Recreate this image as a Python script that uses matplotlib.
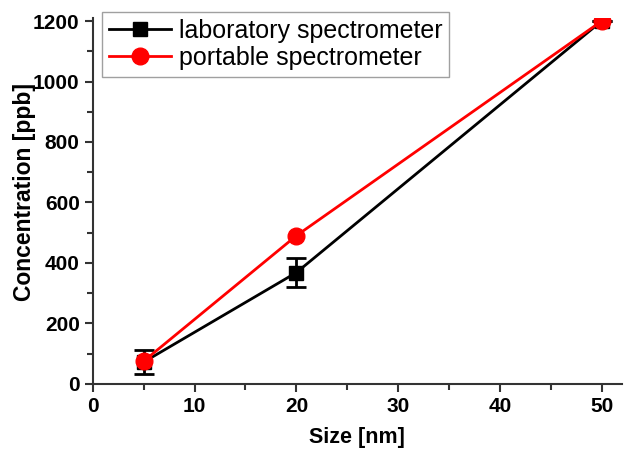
import matplotlib.pyplot as plt
from matplotlib.ticker import MultipleLocator

sizes = [5, 20, 50]
labConc = [72, 368, 1200]
labErr = [39, 48, 0]
portConc = [75, 490, 1200]

plt.rcParams['font.family'] = ['Liberation Sans', 'DejaVu Sans']

fig = plt.figure(figsize=(6.36, 4.51), dpi=100)
ax = fig.add_axes([0.146, 0.149, 0.832, 0.811])

# error bars for the lab series, then the two lines with markers
ax.errorbar(sizes, labConc, yerr=labErr, fmt='none', ecolor="black",
            elinewidth=2, capsize=7, capthick=2)
labLine, = ax.plot(sizes, labConc, color="black", marker='s', markersize=10,
                   linewidth=2, label="laboratory spectrometer")
portLine, = ax.plot(sizes, portConc, color="red", marker='o', markersize=12,
                    linewidth=2, label="portable spectrometer")

ax.set_xlim(0, 52)
ax.set_ylim(0, 1210)
ax.xaxis.set_major_locator(MultipleLocator(10))
ax.xaxis.set_minor_locator(MultipleLocator(5))
ax.yaxis.set_major_locator(MultipleLocator(200))
ax.yaxis.set_minor_locator(MultipleLocator(100))

for side in ["top", "right"]:
    ax.spines[side].set_visible(False)
for side in ["left", "bottom"]:
    ax.spines[side].set_linewidth(1.5)
    ax.spines[side].set_color("#333333")

ax.tick_params(which='major', direction='out', length=6, width=1.5, colors="#333333",
               labelsize=15, labelcolor="black")
ax.tick_params(which='minor', direction='out', length=4, width=1.5, colors="#333333")
for lbl in ax.get_xticklabels() + ax.get_yticklabels():
    lbl.set_fontweight('bold')

ax.set_xlabel("Size [nm]", fontsize=15.5, fontweight='bold', labelpad=8)
ax.set_ylabel("Concentration [ppb]", fontsize=16.5, fontweight='bold')
ax.yaxis.set_label_coords(-0.107, 0.525)

leg = ax.legend(handles=[labLine, portLine], loc="upper left",
                bbox_to_anchor=(0.017, 1.016), fontsize=18,
                frameon=True, fancybox=False, edgecolor="#888888",
                handlelength=2.5, handletextpad=0.3, borderpad=0.28,
                labelspacing=0.1, borderaxespad=0)
leg.get_frame().set_linewidth(1)

plt.savefig("out.png", dpi=100)
